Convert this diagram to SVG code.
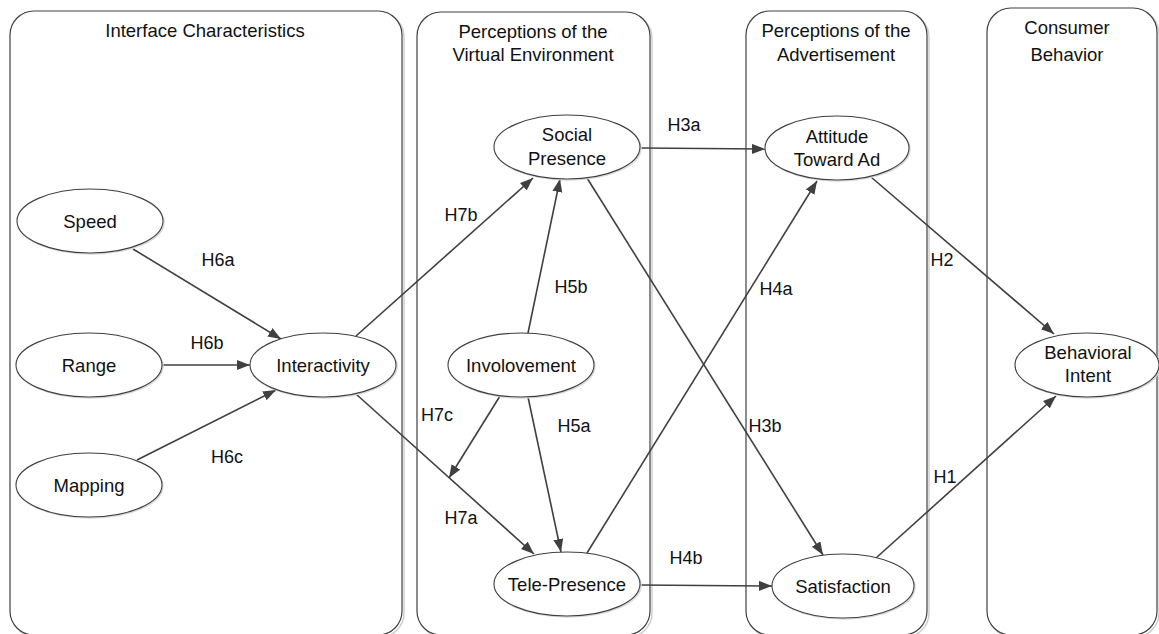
<svg xmlns="http://www.w3.org/2000/svg" width="1159" height="634" viewBox="0 0 1159 634">
<defs>
<style>
.box{fill:#fff;stroke:#404040;stroke-width:1.2}
.boxsh{fill:none;stroke:#d0d0d0;stroke-width:1.5}
.node{fill:#fff;stroke:#404040;stroke-width:1.1}
.nodesh{fill:none;stroke:#d8d8d8;stroke-width:1.5}
.t{font-family:"Liberation Sans",Arial,sans-serif;font-size:18.5px;fill:#111;text-anchor:middle}
.lbl{font-family:"Liberation Sans",Arial,sans-serif;font-size:18px;fill:#111;text-anchor:middle}
.c{stroke:#404040;stroke-width:1.6;fill:none;marker-end:url(#ah)}
</style>
<marker id="ah" markerUnits="userSpaceOnUse" markerWidth="14" markerHeight="12" refX="13" refY="5" orient="auto">
<path d="M0,0 L13,5 L0,10 z" fill="#404040"/>
</marker>
</defs>
<rect width="1159" height="634" fill="#fff"/>

<g id="box-interface">
<rect class="boxsh" x="12" y="13" width="392" height="624" rx="24"/>
<rect class="box" x="10" y="11" width="392" height="624" rx="24"/>
<text class="t" x="205" y="37">Interface Characteristics</text>
</g>
<g id="box-virtual">
<rect class="boxsh" x="419" y="14" width="233" height="623" rx="24"/>
<rect class="box" x="417" y="12" width="233" height="623" rx="24"/>
<text class="t" x="533" y="38">Perceptions of the</text>
<text class="t" x="533" y="61">Virtual Environment</text>
</g>
<g id="box-ad">
<rect class="boxsh" x="748" y="13" width="181" height="624" rx="24"/>
<rect class="box" x="746" y="11" width="181" height="624" rx="24"/>
<text class="t" x="836" y="37">Perceptions of the</text>
<text class="t" x="836" y="61">Advertisement</text>
</g>
<g id="box-consumer">
<rect class="boxsh" x="989" y="10" width="170" height="627" rx="24"/>
<rect class="box" x="987" y="8" width="170" height="627" rx="24"/>
<text class="t" x="1067" y="34">Consumer</text>
<text class="t" x="1067" y="61">Behavior</text>
</g>

<g id="connectors">
<line class="c" x1="133" y1="249" x2="281" y2="339"/>
<line class="c" x1="162" y1="365" x2="250" y2="365"/>
<line class="c" x1="137" y1="460" x2="276" y2="390"/>
<line class="c" x1="356" y1="336" x2="533" y2="178"/>
<line class="c" x1="356" y1="394" x2="534" y2="554"/>
<line class="c" x1="528" y1="333" x2="560" y2="179"/>
<line class="c" x1="528" y1="397" x2="561" y2="552"/>
<line class="c" x1="500" y1="396" x2="449" y2="478"/>
<line class="c" x1="641" y1="148" x2="765" y2="149"/>
<line class="c" x1="587" y1="178" x2="823" y2="555"/>
<line class="c" x1="587" y1="553" x2="817" y2="181"/>
<line class="c" x1="640" y1="585" x2="772" y2="586"/>
<line class="c" x1="871" y1="177" x2="1054" y2="334"/>
<line class="c" x1="876" y1="558" x2="1056" y2="396"/>
<text class="lbl" x="218" y="266">H6a</text>
<text class="lbl" x="207" y="349">H6b</text>
<text class="lbl" x="227" y="463">H6c</text>
<text class="lbl" x="461" y="221">H7b</text>
<text class="lbl" x="571" y="293">H5b</text>
<text class="lbl" x="437" y="421">H7c</text>
<text class="lbl" x="574" y="432">H5a</text>
<text class="lbl" x="461" y="524">H7a</text>
<text class="lbl" x="684" y="131">H3a</text>
<text class="lbl" x="776" y="295">H4a</text>
<text class="lbl" x="765" y="432">H3b</text>
<text class="lbl" x="686" y="564">H4b</text>
<text class="lbl" x="942" y="266">H2</text>
<text class="lbl" x="945" y="483">H1</text>
</g>

<g id="node-speed">
<ellipse class="nodesh" cx="91" cy="222" rx="73" ry="32"/>
<ellipse class="node" cx="90" cy="221" rx="73" ry="32"/>
<text class="t" x="90" y="228">Speed</text>
</g>
<g id="node-range">
<ellipse class="nodesh" cx="90" cy="366" rx="73" ry="32"/>
<ellipse class="node" cx="89" cy="365" rx="73" ry="32"/>
<text class="t" x="89" y="372">Range</text>
</g>
<g id="node-mapping">
<ellipse class="nodesh" cx="90" cy="486" rx="73" ry="32"/>
<ellipse class="node" cx="89" cy="485" rx="73" ry="32"/>
<text class="t" x="89" y="492">Mapping</text>
</g>
<g id="node-interactivity">
<ellipse class="nodesh" cx="324" cy="366" rx="73" ry="32"/>
<ellipse class="node" cx="323" cy="365" rx="73" ry="32"/>
<text class="t" x="323" y="372">Interactivity</text>
</g>
<g id="node-social">
<ellipse class="nodesh" cx="568" cy="148" rx="73" ry="32"/>
<ellipse class="node" cx="567" cy="147" rx="73" ry="32"/>
<text class="t" x="567" y="141">Social</text>
<text class="t" x="567" y="165">Presence</text>
</g>
<g id="node-involvement">
<ellipse class="nodesh" cx="522" cy="366" rx="73" ry="32"/>
<ellipse class="node" cx="521" cy="365" rx="73" ry="32"/>
<text class="t" x="521" y="372">Involovement</text>
</g>
<g id="node-telepresence">
<ellipse class="nodesh" cx="568" cy="585" rx="73" ry="32"/>
<ellipse class="node" cx="567" cy="584" rx="73" ry="32"/>
<text class="t" x="567" y="591">Tele-Presence</text>
</g>
<g id="node-attitude">
<ellipse class="nodesh" cx="838" cy="149" rx="72" ry="32"/>
<ellipse class="node" cx="837" cy="148" rx="72" ry="32"/>
<text class="t" x="837" y="143">Attitude</text>
<text class="t" x="837" y="166">Toward Ad</text>
</g>
<g id="node-satisfaction">
<ellipse class="nodesh" cx="844" cy="587" rx="71" ry="32"/>
<ellipse class="node" cx="843" cy="586" rx="71" ry="32"/>
<text class="t" x="843" y="593">Satisfaction</text>
</g>
<g id="node-behavioral">
<ellipse class="nodesh" cx="1088" cy="366" rx="72" ry="32"/>
<ellipse class="node" cx="1087" cy="365" rx="72" ry="32"/>
<text class="t" x="1088" y="359">Behavioral</text>
<text class="t" x="1088" y="382">Intent</text>
</g>
</svg>
